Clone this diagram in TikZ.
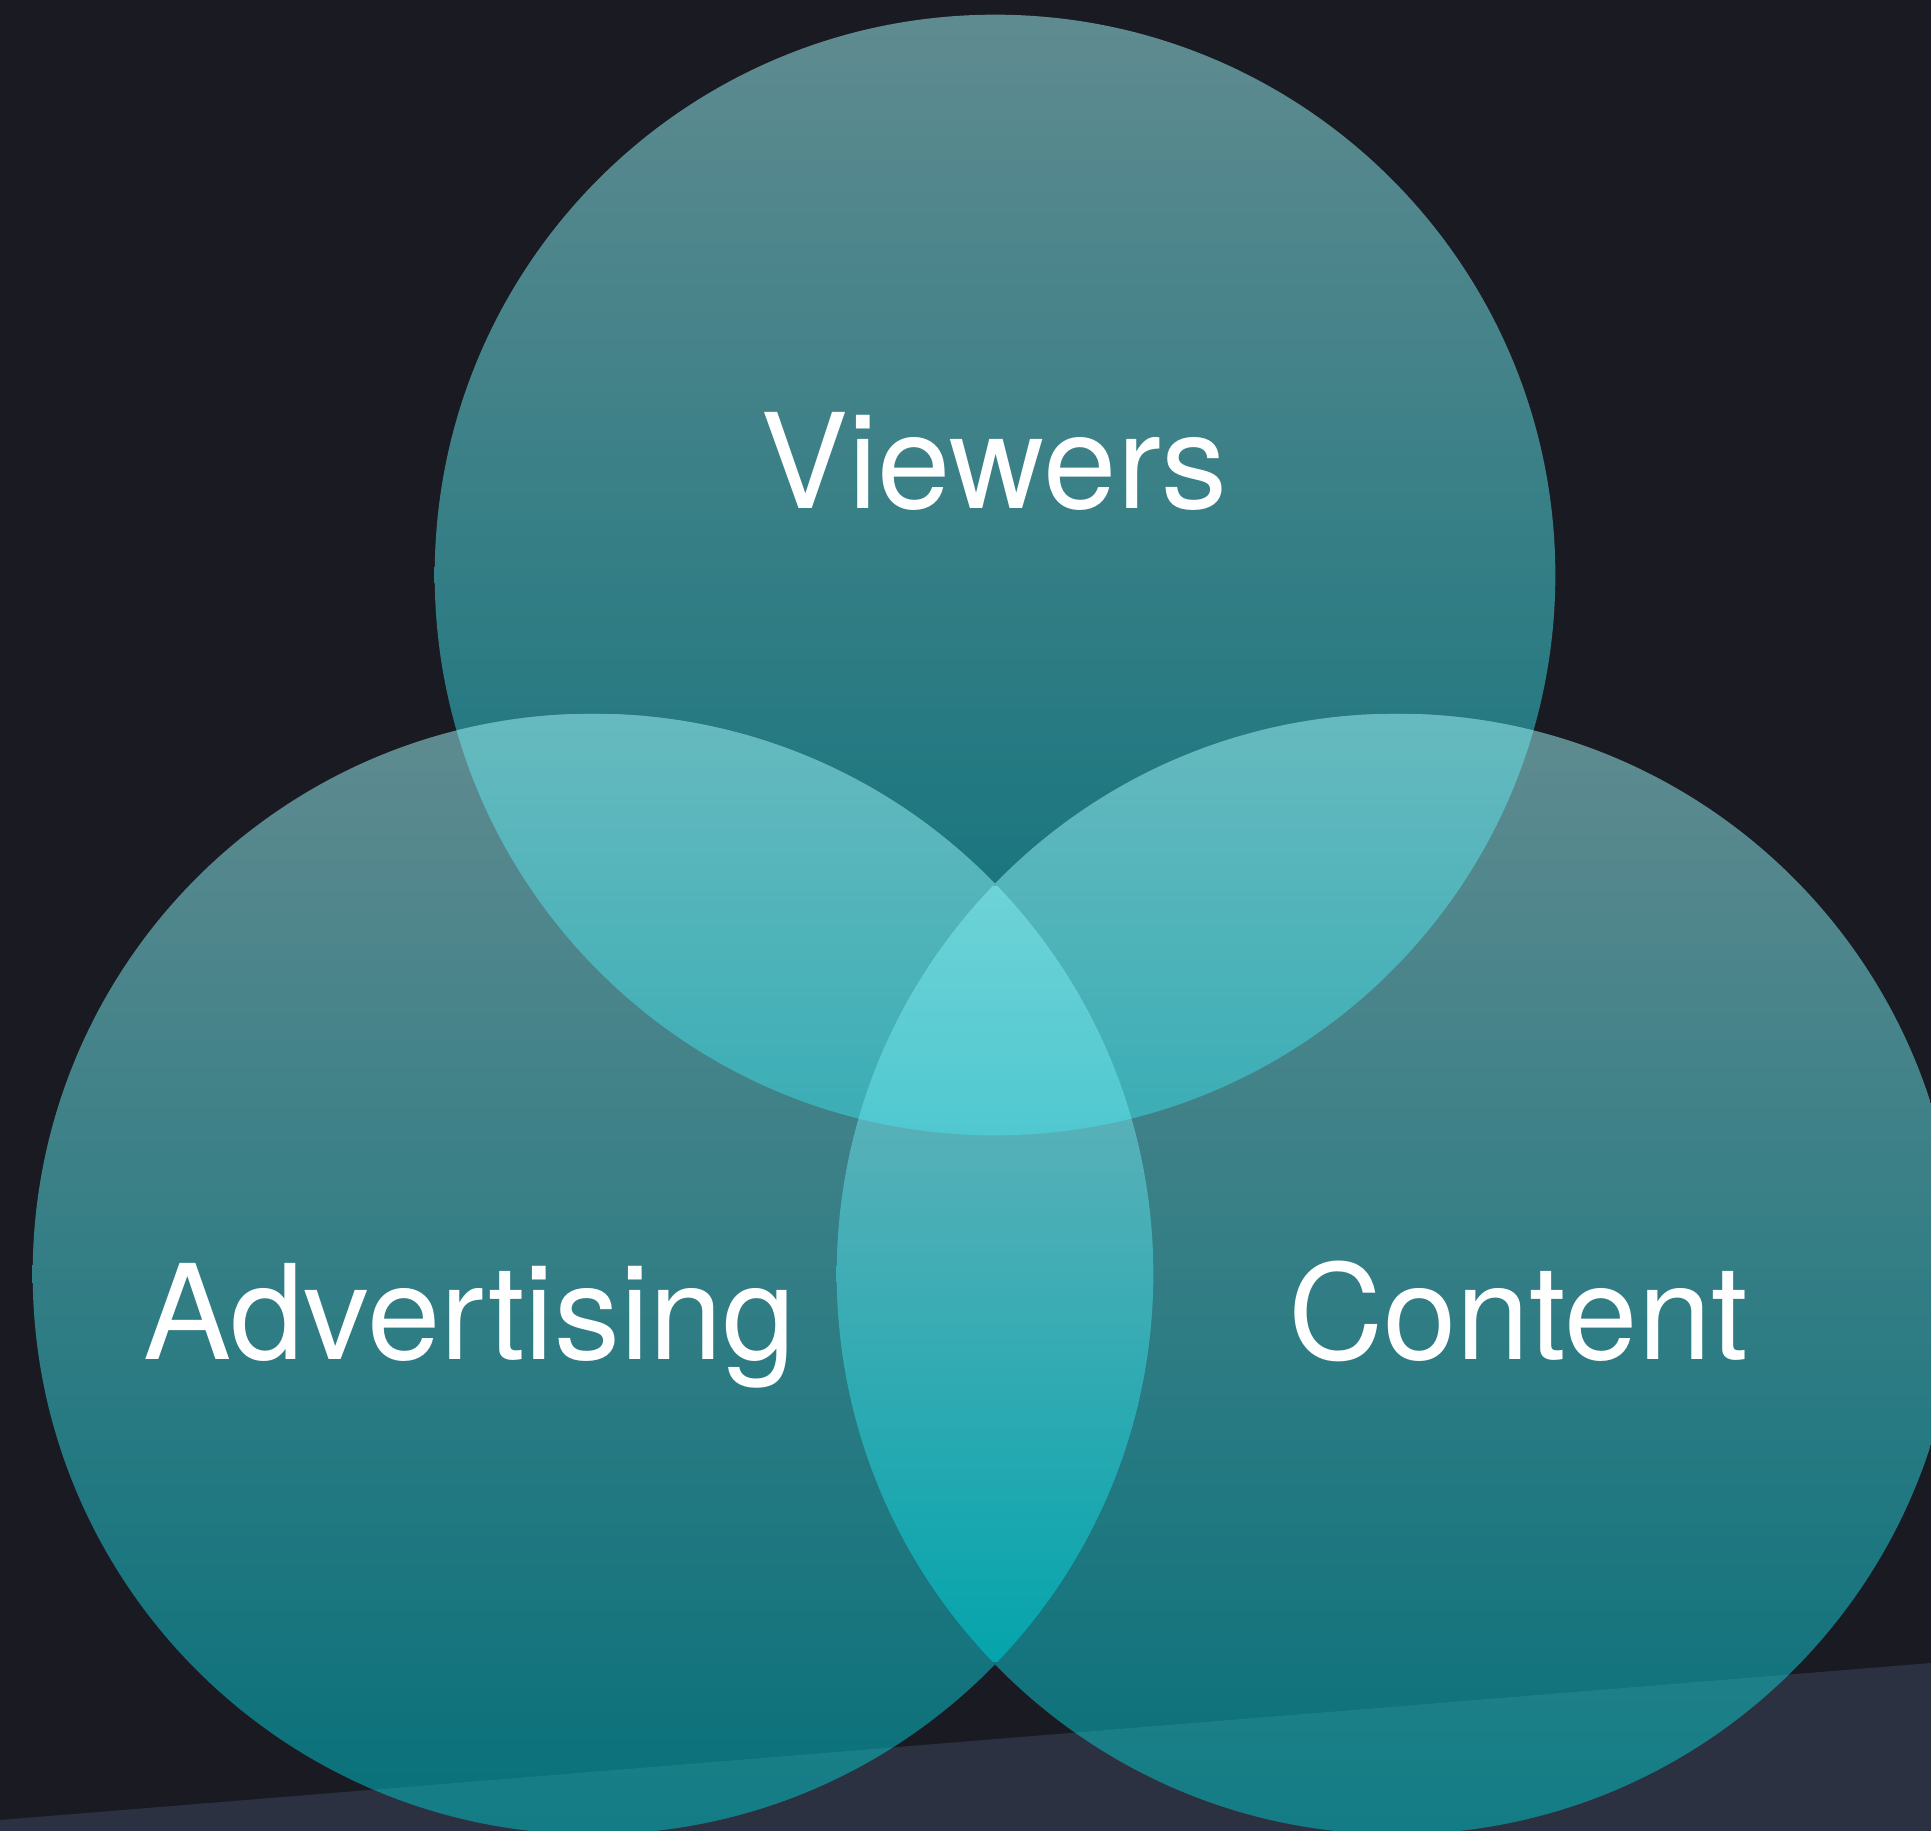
\documentclass[tikz,border=0pt]{standalone}
\usepackage{fontspec}
\setmainfont{TeX Gyre Heros}
\definecolor{night}{HTML}{1A1A23}
\definecolor{floorGrey}{HTML}{2C3141}
\definecolor{discTop}{HTML}{5F8B90}
\definecolor{discBot}{HTML}{07707A}
\definecolor{pairTop}{HTML}{66BABF}
\definecolor{pairBot}{HTML}{3AADB5}
\definecolor{lowTop}{HTML}{7BB6BE}
\definecolor{lowBot}{HTML}{05A4AC}
\definecolor{coreTop}{HTML}{6DD3D7}
\definecolor{coreBot}{HTML}{50C8D0}
\definecolor{floorTint}{RGB}{140,255,255}
\begin{document}
\begin{tikzpicture}[x=0.01cm,y=-0.01cm,
    disc/.style={top color=discTop,bottom color=discBot},
    main node/.style={anchor=base,text=white,font=\fontsize{37.5}{45}\selectfont}]
  \useasboundingbox (0,0) rectangle (1931,1831);
  \fill[night] (0,0) rectangle (1931,1831);
  % floor
  \fill[floorGrey] (0,1820) -- (1931,1663) -- (1931,1831) -- (0,1831) -- cycle;
  \coordinate (v) at (995,575);
  \coordinate (a) at (593,1274);
  \coordinate (c) at (1397,1274);
  % the three circles
  \shade[disc] (v) circle (5.6cm);
  \shade[disc] (a) circle (5.6cm);
  \shade[disc] (c) circle (5.6cm);
  % overlaps of two
  \begin{scope}
    \clip (v) circle (5.6cm);
    \clip (a) circle (5.6cm);
    \shade[top color=pairTop,bottom color=pairBot] (0,714) rectangle (1931,1135);
  \end{scope}
  \begin{scope}
    \clip (v) circle (5.6cm);
    \clip (c) circle (5.6cm);
    \shade[top color=pairTop,bottom color=pairBot] (0,714) rectangle (1931,1135);
  \end{scope}
  \begin{scope}
    \clip (a) circle (5.6cm);
    \clip (c) circle (5.6cm);
    \shade[top color=lowTop,bottom color=lowBot] (0,886) rectangle (1931,1661);
  \end{scope}
  % middle
  \begin{scope}
    \clip (v) circle (5.6cm);
    \clip (a) circle (5.6cm);
    \clip (c) circle (5.6cm);
    \shade[top color=coreTop,bottom color=coreBot] (0,886) rectangle (1931,1135);
  \end{scope}
  % floor seen through the circles
  \begin{scope}
    \clip (0,1820) -- (1931,1663) -- (1931,1831) -- (0,1831) -- cycle;
    \fill[floorTint,opacity=.09] (a) circle (5.6cm) (c) circle (5.6cm);
  \end{scope}
  \node[main node] (viewers) at (994,509) {Viewers};
  \node[main node] (advertising) at (470,1359) {Advertising};
  \node[main node] (content) at (1518,1359) {Content};
\end{tikzpicture}
\end{document}
